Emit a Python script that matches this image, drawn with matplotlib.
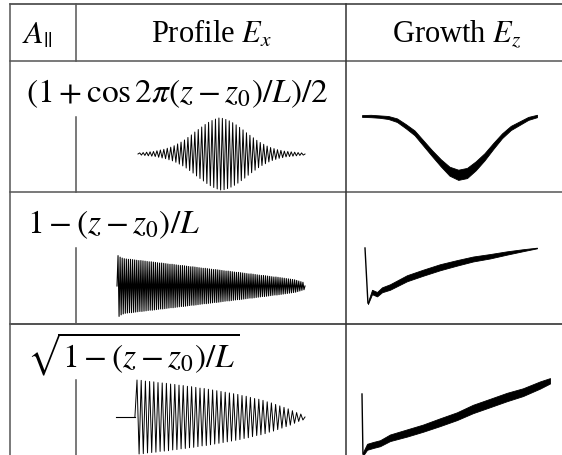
import matplotlib
matplotlib.use("Agg")
import matplotlib.pyplot as plt
import numpy as np

plt.rcParams['font.family'] = ['Liberation Serif', 'DejaVu Serif']
plt.rcParams['mathtext.fontset'] = 'stix'

W, H = 562, 455

################################
# data
################################

headers = [r"$A_{||}$", r"Profile $E_x$", r"Growth $E_z$"]
row_labels = [r"$(1+\cos 2\pi(z-z_0)/L)/2$",
              r"$1-(z-z_0)/L$",
              r"$\sqrt{1-(z-z_0)/L}$"]

# peak amplitude of each oscillation of E_x (normalised)
peaks_cos = [0.03, 0.04, 0.05, 0.06, 0.07, 0.09, 0.11, 0.13, 0.16, 0.19, 0.23, 0.28,
             0.33, 0.39, 0.46, 0.53, 0.61, 0.68, 0.75, 0.82, 0.88, 0.93, 0.97, 1.00,
             0.99, 0.96, 0.92, 0.87, 0.81, 0.74, 0.67, 0.59, 0.52, 0.45, 0.38, 0.32,
             0.27, 0.22, 0.18, 0.15, 0.12, 0.10, 0.08, 0.07, 0.06, 0.05, 0.04, 0.03]
peaks_lin = [0.98, 0.93, 0.90, 0.88, 0.87, 0.86, 0.86, 0.85, 0.84, 0.83,
             0.82, 0.82, 0.81, 0.80, 0.79, 0.78, 0.78, 0.77, 0.76, 0.75,
             0.74, 0.74, 0.73, 0.72, 0.71, 0.70, 0.70, 0.69, 0.68, 0.67,
             0.66, 0.66, 0.65, 0.64, 0.63, 0.62, 0.62, 0.61, 0.60, 0.59,
             0.58, 0.57, 0.57, 0.56, 0.55, 0.54, 0.53, 0.53, 0.52, 0.51,
             0.50, 0.49, 0.48, 0.48, 0.47, 0.46, 0.45, 0.44, 0.44, 0.43,
             0.42, 0.41, 0.40, 0.39, 0.39, 0.38, 0.37, 0.36, 0.35, 0.34,
             0.34, 0.33, 0.32, 0.31, 0.30, 0.29, 0.29, 0.28, 0.27, 0.26,
             0.25, 0.24, 0.23, 0.22, 0.21, 0.20, 0.18, 0.16, 0.14, 0.12]
peaks_sqrt = [1.00, 0.99, 0.97, 0.96, 0.95, 0.93, 0.92, 0.91, 0.89, 0.88,
              0.86, 0.85, 0.83, 0.82, 0.80, 0.78, 0.77, 0.75, 0.73, 0.71,
              0.69, 0.67, 0.65, 0.63, 0.61, 0.58, 0.56, 0.53, 0.50, 0.48,
              0.45, 0.41, 0.38, 0.34, 0.30, 0.26, 0.22, 0.17, 0.12, 0.08]
# z where the oscillation begins (flat line before it)
z_on = [0.0, 0.0, 0.10]

# growth of E_z: z, centre value, half width of the band
gz_cos = [0.0, 0.05, 0.10, 0.15, 0.20, 0.25, 0.30, 0.35, 0.40, 0.45, 0.50,
          0.55, 0.60, 0.65, 0.70, 0.75, 0.80, 0.85, 0.90, 0.95, 1.0]
g_cos = [0.0, 0.0, -0.01, -0.025, -0.07, -0.17, -0.28, -0.45, -0.62, -0.78, -0.92,
         -0.98, -0.95, -0.83, -0.68, -0.50, -0.33, -0.20, -0.12, -0.04, 0.0]
w_cos = [0.015, 0.02, 0.02, 0.025, 0.03, 0.035, 0.04, 0.045, 0.05, 0.06, 0.075,
         0.085, 0.085, 0.075, 0.06, 0.05, 0.04, 0.035, 0.03, 0.025, 0.02]

gz_lin = [0.0, 0.017, 0.041, 0.070, 0.099, 0.145, 0.244, 0.337, 0.436, 0.535,
          0.628, 0.727, 0.826, 0.919, 1.0]
g_lin = [1.0, 0.0, 0.20, 0.16, 0.24, 0.29, 0.45, 0.55, 0.65, 0.73,
         0.80, 0.85, 0.91, 0.96, 1.0]
w_lin = [0.0, 0.02, 0.04, 0.04, 0.045, 0.05, 0.055, 0.055, 0.055, 0.05,
         0.045, 0.04, 0.03, 0.018, 0.006]

gz_sqrt = [0.0, 0.005, 0.027, 0.059, 0.096, 0.149, 0.239, 0.324, 0.415, 0.505,
           0.590, 0.681, 0.771, 0.856, 0.947, 1.0]
g_sqrt = [1.0, 0.0, 0.12, 0.15, 0.18, 0.27, 0.35, 0.43, 0.53, 0.63,
          0.75, 0.85, 0.95, 1.03, 1.15, 1.22]
w_sqrt = [0.0, 0.03, 0.05, 0.05, 0.05, 0.055, 0.06, 0.06, 0.065, 0.065,
          0.07, 0.07, 0.07, 0.065, 0.06, 0.045]


################################
# helpers
################################

def px_axes(fig, x0, x1, y0, y1):
    # pixel box (top-left origin) -> figure axes
    a = fig.add_axes([x0 / W, 1 - y1 / H, (x1 - x0) / W, (y1 - y0) / H])
    a.set_axis_off()
    return a

def draw_profile(a, peaks, zon, lw=0.6):
    n = len(peaks)
    zz = np.linspace(zon, 1, 2 * n + 2)
    yy = [0.0]
    for p in peaks:
        yy += [p, -p]
    yy += [0.0]
    a.plot(zz, yy, color="black", lw=lw, clip_on=False)
    if zon > 0:
        a.plot([0, zon], [0, 0], color="black", lw=0.8, clip_on=False)
    a.set_xlim(0, 1)
    a.set_ylim(-1, 1)

def draw_growth(a, z, g, w, ylim, spike=False):
    z = np.array(z); g = np.array(g); w = np.array(w)
    if spike:
        a.plot(z[:2], g[:2], color="black", lw=1.0, clip_on=False)
        z, g, w = z[1:], g[1:], w[1:]
    a.fill_between(z, g - w, g + w, color="black", lw=0.6, clip_on=False)
    a.set_xlim(0, 1)
    a.set_ylim(*ylim)


fig = plt.figure(figsize=(W / 100, H / 100), dpi=100)
ax = fig.add_axes([0, 0, 1, 1])
ax.set_xlim(0, W)
ax.set_ylim(H, 0)
ax.set_axis_off()

grey = "#555555"
# table rules
ax.plot([10, W], [4, 4], color="#333333", lw=1.1)
ax.plot([10, W], [61, 61], color=grey, lw=1.1)
ax.plot([10, W], [192, 192], color=grey, lw=1.1)
ax.plot([10, W], [324, 324], color="#222222", lw=1.1)
ax.plot([10, 10], [4, H], color=grey, lw=1.1)
ax.plot([346, 346], [4, H], color="#333333", lw=1.1)
ax.plot([76, 76], [4, 61], color=grey, lw=1.1)
for y0, y1 in [(117, 192), (248, 324), (380, H)]:
    ax.plot([76, 76], [y0, y1], color=grey, lw=1.1)

# header and row labels
ax.text(22, 36, headers[0], fontsize=23, ha="left", va="center")
ax.text(211, 34, headers[1], fontsize=22, ha="center", va="center")
ax.text(457, 34, headers[2], fontsize=22, ha="center", va="center")
ax.text(177, 94, row_labels[0], fontsize=24, ha="center", va="center")
ax.text(27, 225, row_labels[1], fontsize=24, ha="left", va="center")
ax.text(27, 354, row_labels[2], fontsize=24, ha="left", va="center")

# E_x profiles
draw_profile(px_axes(fig, 138, 305, 118, 190), peaks_cos, z_on[0], lw=0.7)
draw_profile(px_axes(fig, 117, 305, 255, 317), peaks_lin, z_on[1], lw=0.8)
draw_profile(px_axes(fig, 116, 305, 380, 454), peaks_sqrt, z_on[2], lw=0.7)

# E_z growth
draw_growth(px_axes(fig, 362, 537, 116, 176), gz_cos, g_cos, w_cos, (-1, 0))
draw_growth(px_axes(fig, 365, 537, 248, 303), gz_lin, g_lin, w_lin, (0, 1), spike=True)
draw_growth(px_axes(fig, 362, 550, 394, 454), gz_sqrt, g_sqrt, w_sqrt, (0, 1), spike=True)

fig.savefig("out.png", dpi=100)
